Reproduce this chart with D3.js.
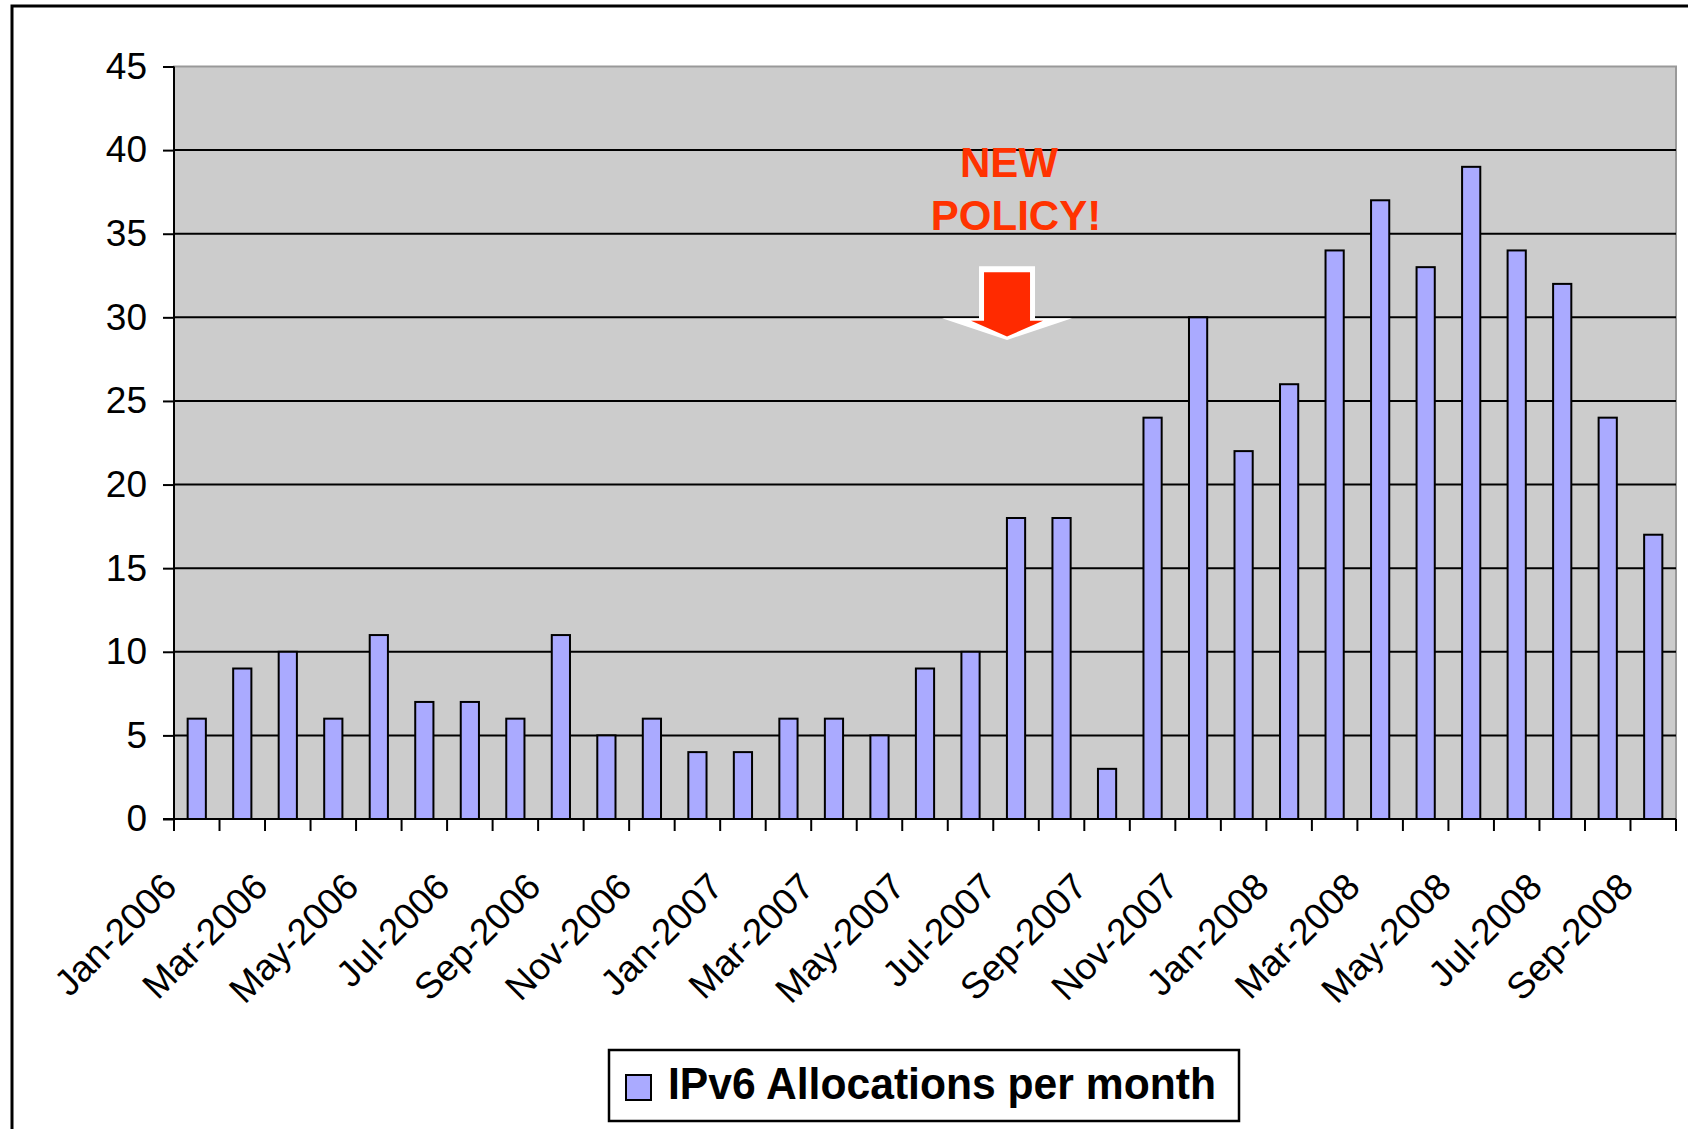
<!DOCTYPE html>
<html>
<head>
<meta charset="utf-8">
<script src="https://cdn.jsdelivr.net/npm/d3@7"></script>
<style>
  body { margin: 0; background: #fff; }
  svg { display: block; }
  text { font-family: Arial, "Liberation Sans", sans-serif; }
</style>
</head>
<body>
<div id="chart"></div>
<script>
'use strict';

// months on the x axis, one bar each
const months = [
  'Jan-2006', 'Feb-2006', 'Mar-2006', 'Apr-2006', 'May-2006', 'Jun-2006',
  'Jul-2006', 'Aug-2006', 'Sep-2006', 'Oct-2006', 'Nov-2006', 'Dec-2006',
  'Jan-2007', 'Feb-2007', 'Mar-2007', 'Apr-2007', 'May-2007', 'Jun-2007',
  'Jul-2007', 'Aug-2007', 'Sep-2007', 'Oct-2007', 'Nov-2007', 'Dec-2007',
  'Jan-2008', 'Feb-2008', 'Mar-2008', 'Apr-2008', 'May-2008', 'Jun-2008',
  'Jul-2008', 'Aug-2008', 'Sep-2008',
];
const allocations = [
  6, 9, 10, 6, 11, 7, 7, 6, 11, 5, 6, 4,
  4, 6, 6, 5, 9, 10, 18, 18, 3, 24, 30, 22,
  26, 34, 37, 33, 39, 34, 32, 24, 17,
];
// only every second month gets a label
const labelledMonths = months.filter((m, i) => i % 2 === 0);
const yTicks = [0, 5, 10, 15, 20, 25, 30, 35, 40, 45];
const seriesName = 'IPv6 Allocations per month';
const noteLines = ['NEW', 'POLICY!'];
const noteMonth = 'Jul-2007';

const width = 1688, height = 1129;
const plot = {left: 174, right: 1676, top: 66.5, bottom: 819};
const barColor = '#aaaaff';

const svg = d3.select('#chart').append('svg')
  .attr('width', width).attr('height', height);

svg.append('rect').attr('width', width).attr('height', height).attr('fill', 'white');
// outer chart frame, runs off the right and bottom edges
svg.append('rect')
  .attr('x', 12).attr('y', 6).attr('width', 1720).attr('height', 1200)
  .attr('fill', 'none').attr('stroke', 'black').attr('stroke-width', 3);

const x = d3.scaleBand().domain(months)
  .range([plot.left, plot.right])
  .paddingInner(0.6).paddingOuter(0.3);
const y = d3.scaleLinear().domain([0, 45]).range([plot.bottom, plot.top]);

// plot area
svg.append('rect')
  .attr('x', plot.left).attr('y', plot.top)
  .attr('width', plot.right - plot.left).attr('height', plot.bottom - plot.top)
  .attr('fill', '#cccccc').attr('stroke', '#999999').attr('stroke-width', 2);

// gridlines
svg.append('g').selectAll('line')
  .data(yTicks.filter(t => t > 0 && t < 45))
  .enter().append('line')
    .attr('x1', plot.left).attr('x2', plot.right)
    .attr('y1', d => y(d)).attr('y2', d => y(d))
    .attr('stroke', 'black').attr('stroke-width', 2);

// bars
svg.append('g').selectAll('rect')
  .data(allocations)
  .enter().append('rect')
    .attr('x', (d, i) => x(months[i]))
    .attr('y', d => y(d))
    .attr('width', x.bandwidth())
    .attr('height', d => y(0) - y(d))
    .attr('fill', barColor).attr('stroke', 'black').attr('stroke-width', 2);

// y axis
const yAxis = svg.append('g')
  .attr('transform', 'translate(' + plot.left + ',0)')
  .call(d3.axisLeft(y).tickValues(yTicks).tickSize(11).tickPadding(16));
yAxis.select('.domain').remove();
yAxis.selectAll('.tick line').attr('stroke', 'black').attr('stroke-width', 2);
yAxis.selectAll('.tick text')
  .attr('font-size', 37).attr('fill', 'black')
  .attr('font-family', 'Arial, "Liberation Sans", sans-serif');
svg.append('line')
  .attr('x1', plot.left).attr('x2', plot.left)
  .attr('y1', plot.top).attr('y2', plot.bottom + 12)
  .attr('stroke', 'black').attr('stroke-width', 2);

// x axis: line, ticks on category boundaries, rotated labels
const gap = (x.step() - x.bandwidth()) / 2;
const boundaries = months.map(m => x(m) - gap).concat([x(months[months.length - 1]) + x.bandwidth() + gap]);
svg.append('line')
  .attr('x1', plot.left - 11).attr('x2', plot.right)
  .attr('y1', plot.bottom).attr('y2', plot.bottom)
  .attr('stroke', 'black').attr('stroke-width', 2);
svg.append('g').selectAll('line')
  .data(boundaries)
  .enter().append('line')
    .attr('x1', d => d).attr('x2', d => d)
    .attr('y1', plot.bottom).attr('y2', plot.bottom + 12)
    .attr('stroke', 'black').attr('stroke-width', 2);

const xAxis = svg.append('g')
  .attr('transform', 'translate(0,' + plot.bottom + ')')
  .call(d3.axisBottom(x).tickValues(labelledMonths).tickSize(0));
xAxis.select('.domain').remove();
xAxis.selectAll('.tick line').remove();
xAxis.selectAll('.tick text')
  .attr('font-size', 37).attr('fill', 'black')
  .attr('font-family', 'Arial, "Liberation Sans", sans-serif')
  .attr('text-anchor', 'end')
  .attr('x', -18).attr('y', 70).attr('dy', 0)
  .attr('transform', 'rotate(-45,-18,70)');

// annotation: "NEW POLICY!" with a down arrow
const noteX = x(noteMonth) + x.bandwidth() / 2;
const note = svg.append('g');
note.selectAll('text')
  .data(noteLines)
  .enter().append('text')
    .attr('x', (d, i) => noteX - (i === 0 ? 7 : 0))
    .attr('y', (d, i) => y(i === 0 ? 38.4 : 35.25))
    .attr('text-anchor', 'middle')
    .attr('font-size', 42).attr('font-weight', 'bold')
    .attr('fill', '#ff3300')
    .text(d => d);

const ax = noteX - 9;
const arrow = (shaftHalf, headHalf, top, base, tip) => [
  [ax - shaftHalf, y(top)], [ax + shaftHalf, y(top)], [ax + shaftHalf, y(base)],
  [ax + headHalf, y(base)], [ax, y(tip)], [ax - headHalf, y(base)],
  [ax - shaftHalf, y(base)],
];
note.append('polygon')
  .attr('points', arrow(28, 65, 33.05, 29.95, 28.65).map(p => p.join(',')).join(' '))
  .attr('fill', 'white');
note.append('polygon')
  .attr('points', arrow(23, 36, 32.7, 29.8, 28.85).map(p => p.join(',')).join(' '))
  .attr('fill', '#ff2a00');

// legend
const legend = svg.append('g');
legend.append('rect')
  .attr('x', 609).attr('y', 1050).attr('width', 630).attr('height', 71)
  .attr('fill', 'white').attr('stroke', 'black').attr('stroke-width', 2.5);
legend.append('rect')
  .attr('x', 626).attr('y', 1075).attr('width', 25).attr('height', 25)
  .attr('fill', barColor).attr('stroke', 'black').attr('stroke-width', 2);
legend.append('text')
  .attr('x', 668).attr('y', 1099)
  .attr('font-size', 44).attr('font-weight', 'bold')
  .attr('textLength', 548).attr('lengthAdjust', 'spacingAndGlyphs')
  .text(seriesName);
</script>
</body>
</html>
